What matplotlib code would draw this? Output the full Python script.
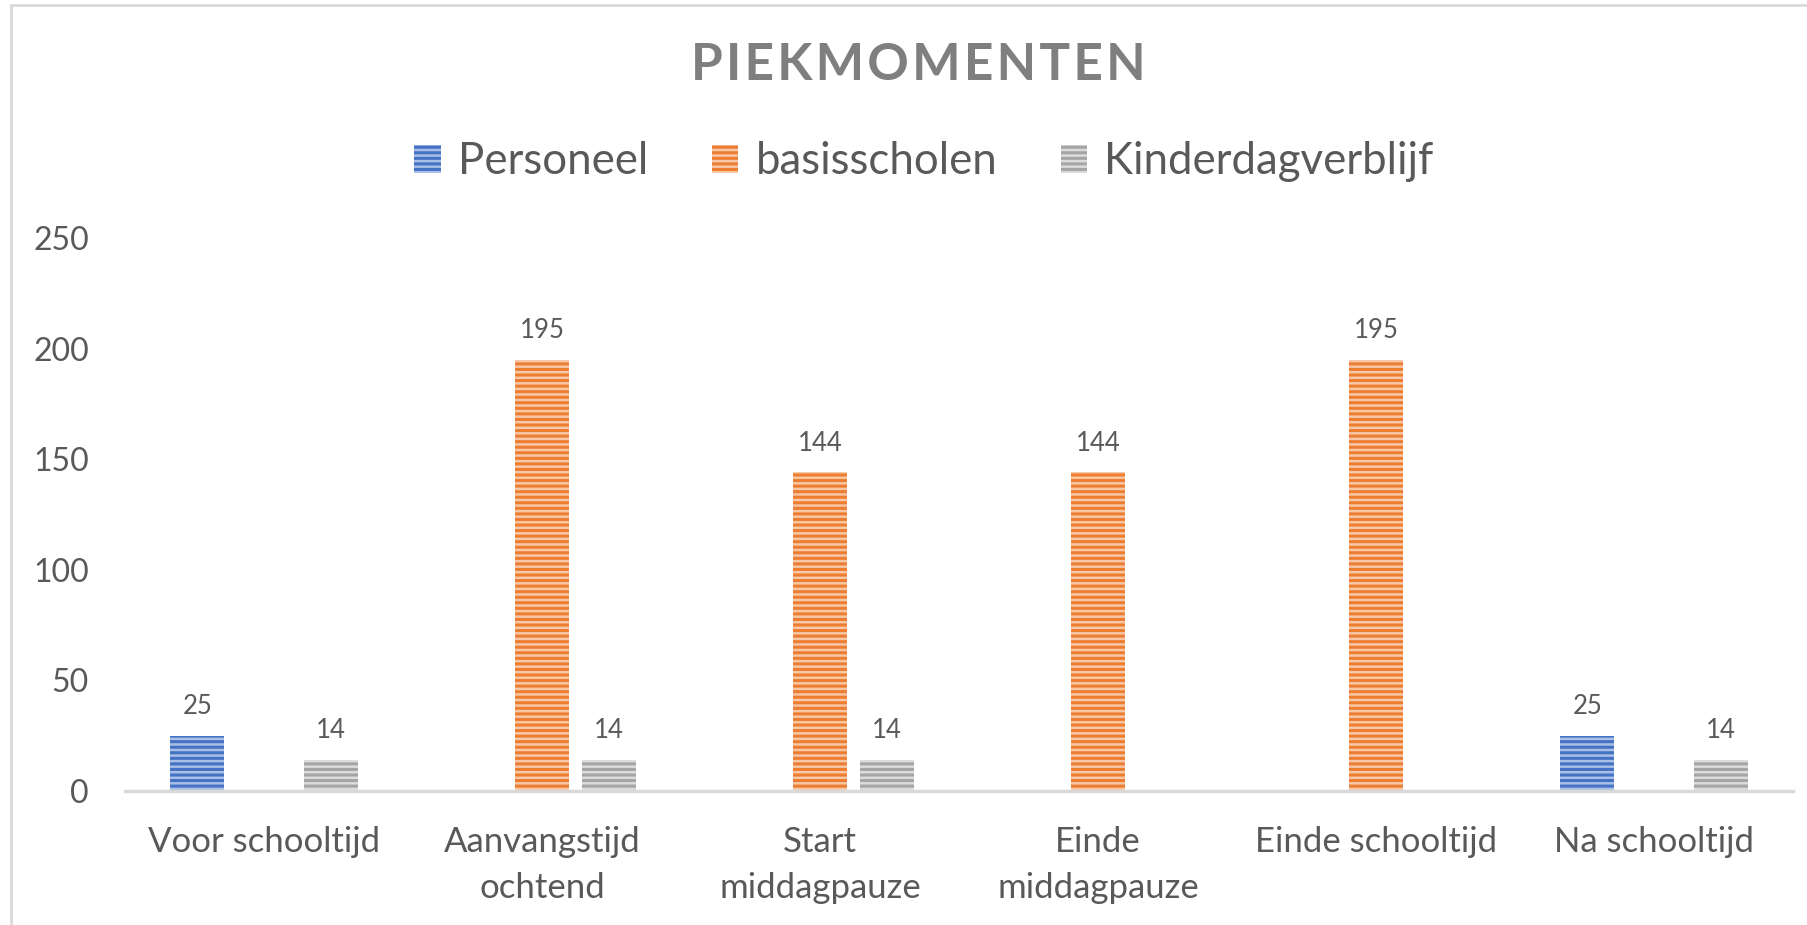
import numpy as np
import matplotlib.pyplot as plt
from matplotlib.patches import Rectangle, Patch

categories = ["Voor schooltijd", "Aanvangstijd\nochtend", "Start\nmiddagpauze",
              "Einde\nmiddagpauze", "Einde schooltijd", "Na schooltijd"]
personeel = [25, np.nan, np.nan, np.nan, np.nan, 25]
basisscholen = [np.nan, 195, 144, 144, 195, np.nan]
kinderdagverblijf = [14, 14, 14, np.nan, np.nan, 14]

series = [("Personeel", personeel, "#4472C4", "#A9BFE6"),
          ("basisscholen", basisscholen, "#ED7D31", "#F8C7A6"),
          ("Kinderdagverblijf", kinderdagverblijf, "#A5A5A5", "#DCDCDC")]

plt.rcParams['font.family'] = ['Lato', 'DejaVu Sans']
plt.rcParams['hatch.linewidth'] = 2.2
txt = '#595959'

fig = plt.figure(figsize=(18.07, 9.25), dpi=100)
ax = fig.add_axes([125/1807, 1 - 791/925, (1793-125)/1807, (791-238)/925])

x = np.arange(len(categories))
w = 0.195
offsets = [-0.24, 0, 0.24]
handles = []
for (name, vals, col, light), off in zip(series, offsets):
    vals = np.array(vals, dtype=float)
    ax.bar(x + off, vals, w, facecolor=light, edgecolor=col,
           hatch='---', linewidth=0, zorder=2)
    for xi, v in zip(x + off, vals):
        if not np.isnan(v):
            ax.annotate(f"{int(v)}", (xi, v), xytext=(0, 12), textcoords='offset points',
                        ha='center', va='bottom', fontsize=18.5, color=txt)
    handles.append(Patch(facecolor=light, edgecolor=col, hatch='---', linewidth=0, label=name))

ax.set_xlim(-0.5, len(categories) - 0.5)
ax.set_ylim(0, 250)
ax.set_yticks(np.arange(0, 251, 50))
ax.set_xticks(x)
ax.set_xticklabels(categories, linespacing=1.55)
ax.tick_params(axis='both', length=0, colors=txt)
ax.tick_params(axis='x', pad=25, labelsize=25)
ax.tick_params(axis='y', pad=26, labelsize=23)
for s in ['top', 'right', 'left']:
    ax.spines[s].set_visible(False)
ax.spines['bottom'].set_color('#D9D9D9')
ax.spines['bottom'].set_linewidth(2.5)
ax.spines['bottom'].set_zorder(3)

title = "\u200a".join("PIEKMOMENTEN")
fig.text(918/1807, 1 - 66/925, title, ha='center', va='center',
         fontsize=37, fontweight='bold', color='#7F7F7F')

fig.legend(handles=handles, loc='center', bbox_to_anchor=(924/1807, 1 - 162/925),
           ncol=3, frameon=False, fontsize=31.5, labelcolor=txt,
           handlelength=0.6, handleheight=0.6, handletextpad=0.4, columnspacing=1.45)

fig.patches.append(Rectangle((11/1807, -0.1), 1.2, 1 - 5/925 + 0.1, transform=fig.transFigure,
                             fill=False, edgecolor='#D9D9D9', linewidth=2))

fig.savefig("out.png", dpi=100, facecolor='white')
